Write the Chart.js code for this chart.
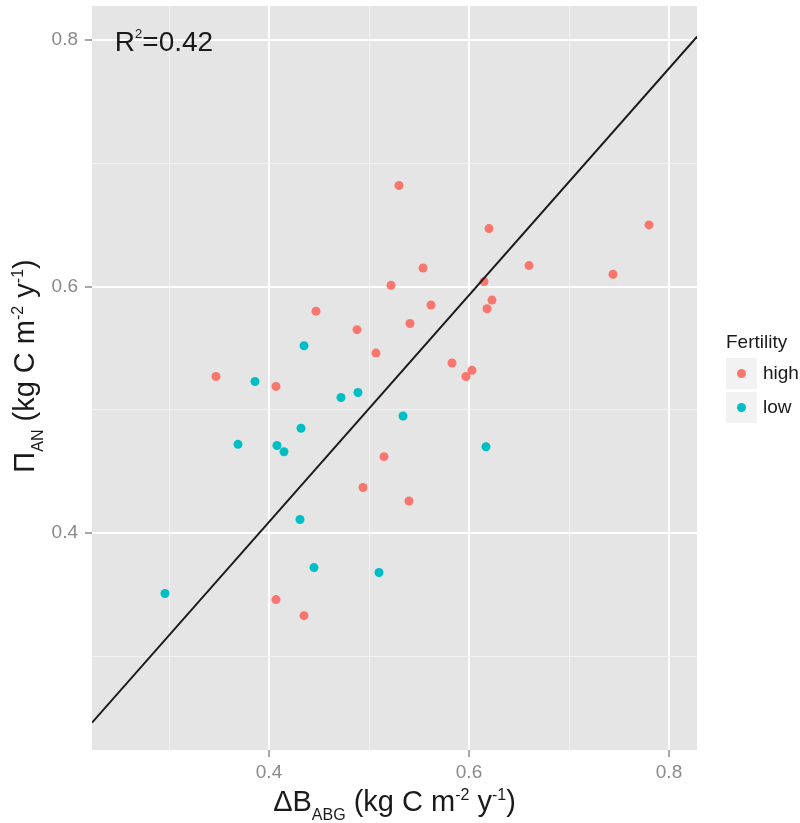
<!DOCTYPE html>
<html>
<head>
<meta charset="utf-8">
<script src="https://cdn.jsdelivr.net/npm/chart.js@4.4.1/dist/chart.umd.min.js"></script>
<style>
  html, body { margin: 0; padding: 0; background: #fff; }
</style>
</head>
<body>
<canvas id="chart" width="800" height="823"></canvas>
<script>
// data
const highX = [0.530, 0.620, 0.780, 0.554, 0.660, 0.744, 0.522, 0.615, 0.447, 0.562, 0.623, 0.618, 0.488,
  0.541, 0.507, 0.347, 0.407, 0.583, 0.603, 0.597, 0.515, 0.494, 0.540, 0.407, 0.435]
const highY = [0.682, 0.647, 0.650, 0.615, 0.617, 0.610, 0.601, 0.604, 0.580, 0.585, 0.589, 0.582, 0.565,
  0.570, 0.546, 0.527, 0.519, 0.538, 0.532, 0.527, 0.462, 0.437, 0.426, 0.346, 0.333]
const lowX = [0.435, 0.386, 0.472, 0.489, 0.534, 0.432, 0.369, 0.408, 0.415, 0.617, 0.431, 0.445, 0.510, 0.296]
const lowY = [0.552, 0.523, 0.510, 0.514, 0.495, 0.485, 0.472, 0.471, 0.466, 0.470, 0.411, 0.372, 0.368, 0.351]

const fitIntercept = 0.041
const fitSlope = 0.92
const rSquared = "0.42"
const rLabelAt = [0.295, 0.8]

const xRange = [0.223, 0.828]
const yRange = [0.224, 0.8276]
const xTicks = [0.3, 0.4, 0.5, 0.6, 0.7, 0.8]
const yTicks = [0.3, 0.4, 0.5, 0.6, 0.7, 0.8]
const majorTicks = [0.4, 0.6, 0.8]
const groups = ["high", "low"]

const FONT = '"Liberation Sans", Arial, sans-serif'
const red = "#F8766D"
const teal = "#00BFC4"
const tickGrey = "#8a8a8a"
const ink = "#1a1a1a"

Chart.defaults.font.family = FONT

const isMajor = (v) => majorTicks.some((m) => Math.abs(m - v) < 1e-6)
const toPoints = (xs, ys) => xs.map((x, i) => ({ x: x, y: ys[i] }))

// draws text runs with sub/superscripts: [text, size, yShift]
function drawRich(ctx, parts, x, y, align) {
  let width = 0
  parts.forEach((p) => {
    ctx.font = p[1] + "px " + FONT
    width += ctx.measureText(p[0]).width
  })
  let cx = align === "center" ? x - width / 2 : x
  parts.forEach((p) => {
    ctx.font = p[1] + "px " + FONT
    ctx.fillText(p[0], cx, y + p[2])
    cx += ctx.measureText(p[0]).width
  })
}

const decor = {
  id: "decor",
  beforeDraw(chart) {
    const ctx = chart.ctx
    const a = chart.chartArea
    ctx.save()
    ctx.fillStyle = "#ffffff"
    ctx.fillRect(0, 0, chart.width, chart.height)
    ctx.fillStyle = "#E5E5E5"
    ctx.fillRect(a.left, a.top, a.right - a.left, a.bottom - a.top)
    ctx.restore()
  },
  afterDraw(chart) {
    const ctx = chart.ctx
    const a = chart.chartArea
    const xs = chart.scales.x
    const ys = chart.scales.y
    ctx.save()
    ctx.fillStyle = ink
    ctx.textBaseline = "alphabetic"

    // R^2 annotation
    drawRich(ctx, [["R", 28, 0], ["2", 13, -13], ["=" + rSquared, 28, 0]],
      xs.getPixelForValue(rLabelAt[0]), ys.getPixelForValue(rLabelAt[1]) + 11, "center")

    // x title
    drawRich(ctx, [["\u0394B", 29, 0], ["ABG", 16, 9], [" (kg C m", 29, 0], ["-2", 16, -11],
      [" y", 29, 0], ["-1", 16, -11], [")", 29, 0]], (a.left + a.right) / 2, 811, "center")

    // y title
    ctx.save()
    ctx.translate(34, 366)
    ctx.rotate(-Math.PI / 2)
    drawRich(ctx, [["\u03A0", 29, 0], ["AN", 16, 9], [" (kg C m", 29, 0], ["-2", 16, -11],
      [" y", 29, 0], ["-1", 16, -11], [")", 29, 0]], 0, 0, "center")
    ctx.restore()

    // legend
    ctx.font = "19px " + FONT
    ctx.textBaseline = "alphabetic"
    ctx.fillText("Fertility", 726, 348)
    const colors = [red, teal]
    groups.forEach((g, i) => {
      const top = 358 + i * 34
      ctx.fillStyle = "#F2F2F2"
      ctx.fillRect(726, top, 31, 31)
      ctx.fillStyle = colors[i]
      ctx.beginPath()
      ctx.arc(741.5, top + 15.5, 4.5, 0, Math.PI * 2)
      ctx.fill()
      ctx.fillStyle = ink
      ctx.textBaseline = "middle"
      ctx.fillText(g, 763, top + 16)
      ctx.textBaseline = "alphabetic"
    })
    ctx.restore()
  }
}

function axisOptions(range, ticks, side) {
  return {
    type: "linear",
    min: range[0],
    max: range[1],
    afterBuildTicks: (s) => { s.ticks = ticks.map((v) => ({ value: v })) },
    afterFit: (s) => {
      if (side === "x") s.height = 73
      else s.width = 92
      // ticks are not at the ends, so no label overhang is needed
      s.paddingTop = 0
      s.paddingBottom = 0
      s.paddingLeft = 0
      s.paddingRight = 0
    },
    border: { display: false },
    grid: {
      color: (c) => (c.tick && isMajor(c.tick.value) ? "#ffffff" : "#F2F2F2"),
      lineWidth: (c) => (c.tick && isMajor(c.tick.value) ? 2 : 1),
      tickColor: (c) => (c.tick && isMajor(c.tick.value) ? tickGrey : "rgba(0,0,0,0)"),
      tickLength: 7,
      tickWidth: 1.5
    },
    ticks: {
      autoSkip: false,
      maxRotation: 0,
      padding: side === "x" ? 4 : 7,
      color: tickGrey,
      font: { size: 19 },
      callback: (v) => (isMajor(v) ? v.toFixed(1) : "")
    }
  }
}

const data = {
  datasets: [
    {
      type: "line",
      label: "fit",
      data: xRange.map((x) => ({ x: x, y: fitIntercept + fitSlope * x })),
      borderColor: ink,
      borderWidth: 2,
      pointRadius: 0,
      order: 0
    },
    {
      type: "scatter",
      label: groups[0],
      data: toPoints(highX, highY),
      backgroundColor: red,
      borderWidth: 0,
      pointRadius: 4.5,
      order: 1
    },
    {
      type: "scatter",
      label: groups[1],
      data: toPoints(lowX, lowY),
      backgroundColor: teal,
      borderWidth: 0,
      pointRadius: 4.5,
      order: 1
    }
  ]
}

const config = {
  type: "scatter",
  data: data,
  options: {
    responsive: false,
    animation: false,
    layout: { padding: { top: 6, right: 103, bottom: 0, left: 0 } },
    plugins: {
      legend: { display: false },
      tooltip: { enabled: false }
    },
    scales: {
      x: axisOptions(xRange, xTicks, "x"),
      y: axisOptions(yRange, yTicks, "y")
    }
  },
  plugins: [decor]
}

new Chart(document.querySelector("#chart"), config)
</script>
</body>
</html>
